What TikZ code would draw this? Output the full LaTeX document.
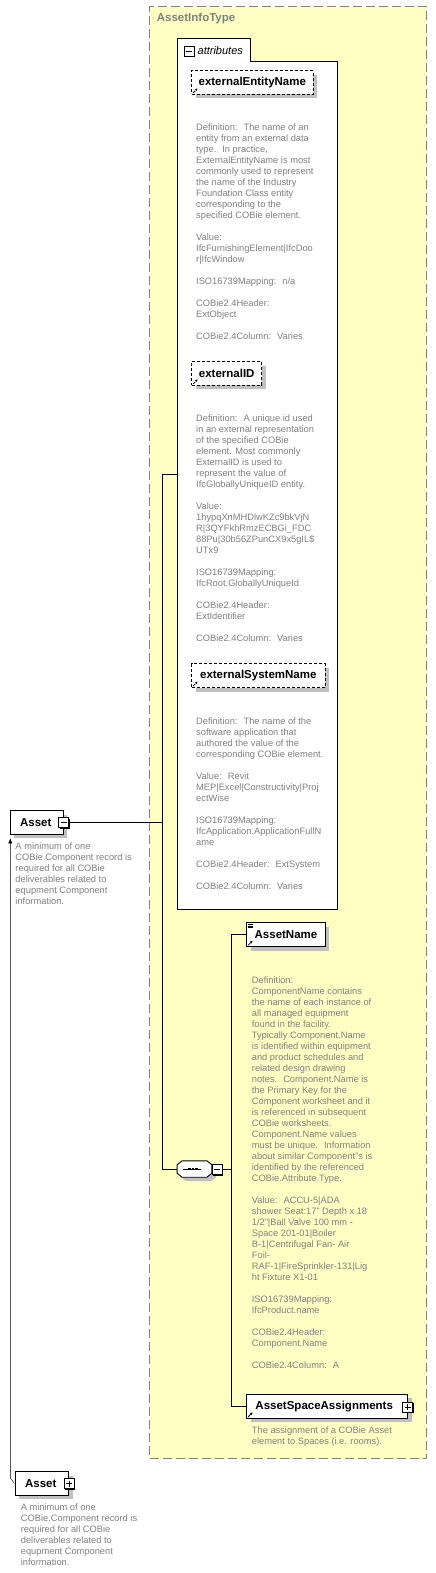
\documentclass[tikz,border=0pt]{standalone}
\usepackage{fontspec}
\setmainfont{Liberation Sans}
\usepackage{tikz}
\usetikzlibrary{positioning,shadows,arrows.meta}
\definecolor{infoyellow}{RGB}{255,255,196}
\definecolor{descgray}{RGB}{128,128,128}
\definecolor{shadowgray}{RGB}{192,192,192}
\definecolor{bordergray}{RGB}{128,128,128}

\begin{document}
\begin{tikzpicture}[x=1pt,y=-1pt,
  elem/.style={draw, fill=white, line width=0.9pt, inner sep=0pt, minimum height=23.6pt,
    font=\bfseries\fontsize{11.5}{13}\selectfont,
    drop shadow={shadow xshift=4pt, shadow yshift=-4pt, fill=shadowgray, opacity=1}},
  opt/.style={elem, dash pattern=on 3pt off 2pt},
  ref/.style={path picture={\draw[-{Latex[length=2.5pt,width=2.5pt]}, line width=0.8pt]
    ([shift={(1.5pt,1.5pt)}]path picture bounding box.south west) -- ++(4.5pt,4.5pt);}},
  simpleref/.style={path picture={\draw[-{Latex[length=2.5pt,width=2.5pt]}, line width=0.8pt]
    ([shift={(1.5pt,1.5pt)}]path picture bounding box.south west) -- ++(4.5pt,4.5pt);
    \foreach \k in {1.8,3.2,4.6}
      \draw[line width=0.5pt] ([shift={(1.5pt,-\k pt)}]path picture bounding box.north west) -- ++(4.5pt,0);}},
  desc/.style={anchor=north west, inner sep=0pt, align=left, text=descgray,
    font=\fontsize{9.3}{11}\selectfont, execute at begin node=\strut},
  tog/.style={draw, fill=white, minimum size=10pt, inner sep=0pt, line width=0.9pt,
    drop shadow={shadow xshift=1pt, shadow yshift=-1pt, fill=black, opacity=1}},
  minus/.style={tog, path picture={\draw[line width=0.8pt] ([xshift=2pt]path picture bounding box.west)
    -- ([xshift=-2pt]path picture bounding box.east);}},
  plus/.style={tog, path picture={\draw[line width=0.8pt] ([xshift=2pt]path picture bounding box.west)
    -- ([xshift=-2pt]path picture bounding box.east);
    \draw[line width=0.8pt] ([yshift=-2pt]path picture bounding box.north)
    -- ([yshift=2pt]path picture bounding box.south);}},
  seqbox/.style={minimum width=34.4pt, minimum height=16pt, inner sep=0pt}]
\path[fill=white, use as bounding box] (0,0) rectangle (436,1573);

% complexType
\node[draw=bordergray, dash pattern=on 9pt off 4pt, line width=1.2pt, fill=infoyellow,
  anchor=north west, minimum width=277pt, minimum height=1452pt, inner sep=0pt] (info) at (149,6) {};
\node[anchor=west, inner sep=0pt, text=bordergray, font=\bfseries\fontsize{11.5}{13}\selectfont]
  (infolbl) at (156.7,19) {AssetInfoType};

% attributes
\node[anchor=north west, minimum width=160pt, minimum height=848pt, inner sep=0pt] (attr) at (177,61) {};
\draw[fill=white, line width=0.9pt] (attr.south west) |- (250,38) |- (attr.north east) -- (attr.south east) -- cycle;
\node[minus] (attrsign) at (189,51) {};
\node[right=3pt of attrsign, inner sep=0pt, font=\itshape\fontsize{11}{13}\selectfont] (attrlbl) {attributes};

\node[opt, ref, minimum width=121.3pt] (een) at (252.3,82.5) {externalEntityName};
\node[desc] (eendesc) at (196,124) {Definition:~ The name of an\\
entity from an external data\\
type.~ In practice,\\
ExternalEntityName is most\\
commonly used to represent\\
the name of the Industry\\
Foundation Class entity\\
corresponding to the\\
specified COBie element.\\[11pt]
Value:\\
IfcFurnishingElement|IfcDoo\\
r|IfcWindow\\[11pt]
ISO16739Mapping:~ n/a\\[11pt]
COBie2.4Header:\\
ExtObject\\[11pt]
COBie2.4Column:~ Varies};

\node[opt, ref, minimum width=70pt] (eid) at (226.7,373.5) {externalID};
\node[desc] (eiddesc) at (196,415) {Definition:~ A unique id used\\
in an external representation\\
of the specified COBie\\
element. Most commonly\\
ExternalID is used to\\
represent the value of\\
IfcGloballyUniqueID entity.\\[11pt]
Value:\\
1hypqXnMHDlwKZc9bkVjN\\
R|3QYFkhRmzECBGi\_FDC\\
88Pu|30b56ZPunCX9x5gIL\$\\
UTx9\\[11pt]
ISO16739Mapping:\\
IfcRoot.GloballyUniqueId\\[11pt]
COBie2.4Header:\\
ExtIdentifier\\[11pt]
COBie2.4Column:~ Varies};

\node[opt, ref, minimum width=133.3pt] (esn) at (258.3,675.7) {externalSystemName};
\node[desc] (esndesc) at (196,717.3) {Definition:~ The name of the\\
software application that\\
authored the value of the\\
corresponding COBie element.\\[11pt]
Value:~ Revit\\
MEP|Excel|Constructivity|Proj\\
ectWise\\[11pt]
ISO16739Mapping:\\
IfcApplication.ApplicationFullN\\
ame\\[11pt]
COBie2.4Header:~ ExtSystem\\[11pt]
COBie2.4Column:~ Varies};

% sequence
\node[seqbox] (seq) at (194.5,1169) {};
\draw[fill=white, line width=0.9pt, drop shadow={shadow xshift=4pt, shadow yshift=-4pt, fill=shadowgray, opacity=1}]
  ([xshift=5pt]seq.north west) -- ([xshift=-5pt]seq.north east) -- ([yshift=-4pt]seq.north east)
  -- ([yshift=4pt]seq.south east) -- ([xshift=-5pt]seq.south east) -- ([xshift=5pt]seq.south west)
  -- ([yshift=4pt]seq.south west) -- ([yshift=-4pt]seq.north west) -- cycle;
\draw[line width=0.8pt] ([xshift=-12pt]seq.center) -- ([xshift=6pt]seq.center);
\foreach \d in {-5,-1.5,2}
  \fill ([xshift=\d pt]seq.center) +(-1.3pt,-1.3pt) rectangle +(1.3pt,1.3pt);
\node[minus] (seqsign) at (217,1169.5) {};

\node[elem, simpleref, minimum width=78.6pt, minimum height=24pt] (aname) at (286,934.7) {AssetName};
\node[desc] (anamedesc) at (251.7,976.4) {Definition:\\
ComponentName contains\\
the name of each instance of\\
all managed equipment\\
found in the facility.\\
Typically Component.Name\\
is identified within equipment\\
and product schedules and\\
related design drawing\\
notes.~ Component.Name is\\
the Primary Key for the\\
Component worksheet and it\\
is referenced in subsequent\\
COBie worksheets.\\
Component.Name values\\
must be unique.~ Information\\
about similar Component"s is\\
identified by the referenced\\
COBie.Attribute.Type.\\[11pt]
Value:~ ACCU-5|ADA\\
shower Seat:17" Depth x 18\\
1/2"|Ball Valve 100 mm -\\
Space 201-01|Boiler\\
B-1|Centrifugal Fan- Air\\
Foil-\\
RAF-1|FireSprinkler-131|Lig\\
ht Fixture X1-01\\[11pt]
ISO16739Mapping:\\
IfcProduct.name\\[11pt]
COBie2.4Header:\\
Component.Name\\[11pt]
COBie2.4Column:~ A};

\node[elem, ref, minimum width=161pt, minimum height=24pt] (asa) at (327.2,1406.3) {AssetSpaceAssignments\hspace*{6pt}};
\node[plus] (asasign) at (407.8,1407) {};
\node[desc] (asadesc) at (251.7,1426.7) {The assignment of a COBie Asset\\
element to Spaces (i.e. rooms).};

% Asset
\node[elem, minimum width=53pt] (tA) at (36.8,822.5) {Asset\hspace*{2pt}};
\node[minus] (tAsign) at (63.8,822.7) {};
\node[desc] (tAdesc) at (15.3,842.4) {A minimum of one\\
COBie.Component record is\\
required for all COBie\\
deliverables related to\\
equpment Component\\
information.};

\node[elem, minimum width=53.7pt] (bA) at (41.8,1483.5) {Asset\hspace*{2pt}};
\node[plus] (bAsign) at (69,1483.5) {};
\node[desc] (bAdesc) at (20.7,1503.4) {A minimum of one\\
COBie.Component record is\\
required for all COBie\\
deliverables related to\\
equpment Component\\
information.};

% connectors
\coordinate (sp1) at (162.3,474.3);
\coordinate (sp2) at (162.3,1169);
\coordinate (sq1) at (231.3,934.7);
\coordinate (back) at (10.3,1478);
\draw[line width=0.9pt] (tAsign.east) -- (tAsign.east -| sp1);
\draw[line width=0.9pt] (sp1 -| attr.west) -- (sp1) -- (sp2) -- (seq.west);
\draw[line width=0.9pt] (seqsign.east) -- (seqsign.east -| sq1);
\draw[line width=0.9pt] (aname.west) -- (aname.west -| sq1) -- (asa.west -| sq1) -- (asa.west);
\draw[-{Latex[length=5pt,width=4pt]}, shorten >=3.5pt] (bA.west) -- (back) -- (back |- tA.south);
\end{tikzpicture}
\end{document}
